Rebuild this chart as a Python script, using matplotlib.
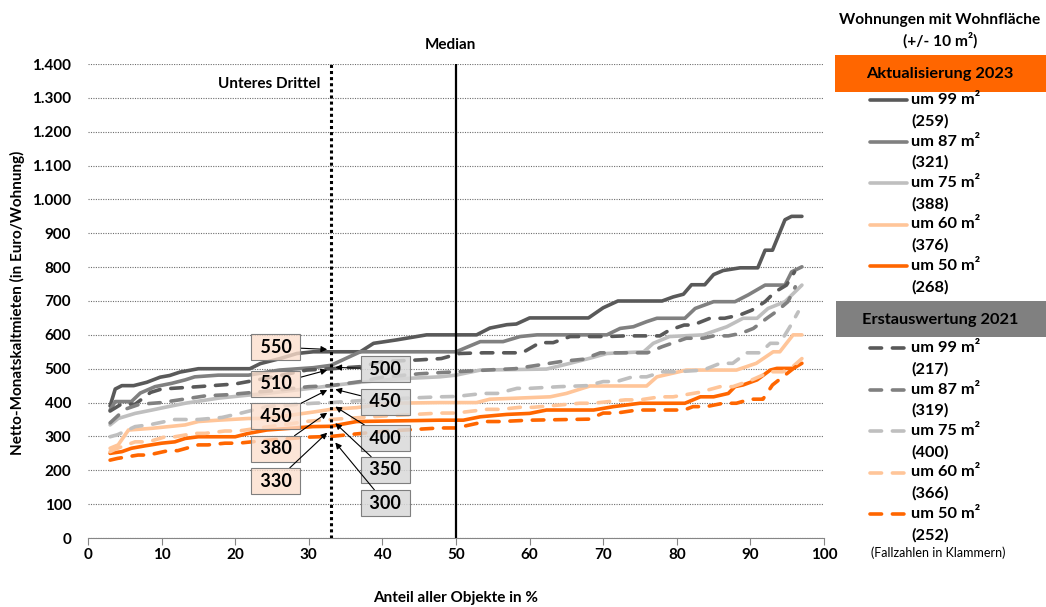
import matplotlib
matplotlib.use("Agg")
import matplotlib.pyplot as plt
from matplotlib.lines import Line2D
from matplotlib.patches import Rectangle
from matplotlib.ticker import FuncFormatter, MultipleLocator

plt.rcParams["font.family"] = ["Lato", "DejaVu Sans"]
plt.rcParams["font.weight"] = "bold"
plt.rcParams["axes.labelweight"] = "bold"

# --- data (x = Anteil in %, y = Euro/Wohnung) ---
# Aktualisierung 2023
x_99_2023 = [3, 3.7, 4.6, 6.2, 8, 9.8, 11.1, 12.5, 15, 22, 23.4, 26.1, 28.4, 30.6, 37, 38.8, 41.9, 46, 52.8, 54.6,
             56.9, 58.2, 60, 68, 70, 72, 78, 79.5, 80.9, 82, 83.8, 85, 86.3, 88.6, 91, 92, 93, 94.7, 95.6, 97]
y_99_2023 = [390, 440, 450, 450, 460, 475, 480, 490, 500, 500, 515, 530, 545, 550, 550, 575, 585, 600, 600, 620,
             630, 632, 650, 650, 680, 700, 700, 712, 720, 748, 748, 778, 790, 798, 798, 850, 850, 940, 950, 950]
x_87_2023 = [3, 3.7, 5.9, 7.1, 9.1, 11.4, 13.2, 14.5, 17.7, 21.8, 26, 30.6, 33, 35.5, 37, 50, 53.3, 56.4, 58.7, 61,
             70.5, 72.3, 74.1, 75.9, 77.3, 81.1, 82.5, 85, 87.9, 89.7, 92, 94.7, 95.6, 97]
y_87_2023 = [378, 403, 403, 428, 447, 457, 467, 476, 481, 481, 496, 503, 510, 535, 550, 550, 580, 580, 595, 600,
             600, 619, 624, 639, 649, 649, 678, 698, 698, 718, 747, 747, 786, 801]
x_75_2023 = [3, 4.1, 6.4, 8.7, 10.9, 13.2, 17.7, 21.8, 24.3, 30.6, 33, 37, 42, 47.8, 50, 53.3, 62.3, 65.5, 68.2,
             70.5, 75.5, 76.8, 79, 83.6, 86.8, 89, 90.9, 92.4, 94.7, 97]
y_75_2023 = [334, 353, 368, 378, 388, 398, 413, 422, 427, 443, 450, 460, 470, 476, 481, 496, 499, 516, 531,
             545, 550, 575, 595, 600, 624, 649, 649, 678, 698, 747]
x_60_2023 = [3, 4.1, 5.5, 8.7, 13.2, 15, 17.7, 21.8, 24.3, 30.6, 33, 36.5, 41, 47.8, 52.8, 54.6, 58.2, 62.8, 65,
             68.2, 75.9, 77.3, 81.3, 88.1, 90.8, 93.1, 94, 95.8, 97]
y_60_2023 = [265, 275, 319, 324, 334, 344, 348, 353, 353, 372, 380, 385, 398, 400, 400, 410, 413, 417, 427,
             449, 449, 476, 496, 496, 516, 550, 550, 600, 600]
x_50_2023 = [3, 4.6, 5.9, 7.7, 10, 11.8, 13.2, 15, 20, 21.8, 24.3, 30.6, 33, 36.5, 47.8, 51, 53.3, 56.9, 60, 62.3,
             68.7, 71.4, 75, 81.1, 83.2, 85, 87, 87.9, 89, 90.9, 92.7, 93.6, 95.8, 97]
y_50_2023 = [250, 255, 265, 272, 280, 284, 294, 299, 299, 309, 319, 329, 330, 344, 348, 348, 358, 365, 368, 378,
             378, 388, 398, 398, 417, 417, 427, 447, 452, 467, 496, 501, 501, 516]

# Erstauswertung 2021
x_99_2021 = [3, 4.5, 6.4, 8.5, 10, 15, 20, 25, 29.7, 33, 37, 40, 45, 48, 50.5, 53.8, 59, 61.4, 63.2, 65.5,
             70.5, 73, 77.7, 79, 81, 82.2, 84.5, 86.5, 88.6, 90.2, 92, 93.3, 94.9, 96]
y_99_2021 = [375, 395, 395, 430, 440, 447, 455, 475, 496, 500, 506, 521, 526, 530, 545, 547, 547, 577, 577, 595,
             595, 597, 597, 614, 629, 629, 649, 649, 659, 673, 698, 726, 747, 786]
x_87_2021 = [3, 4, 5, 7, 10, 16, 18.8, 25, 30, 33, 37, 40, 45, 50, 55, 58, 61, 64.5, 67.3, 69.6,
             76, 78, 81.3, 83.6, 85, 87, 88.8, 90.4, 92.3, 93.6, 95.1, 96.1]
y_87_2021 = [340, 360, 380, 395, 400, 420, 423, 435, 447, 450, 462, 475, 485, 491, 497, 500, 510, 522, 528, 547,
             547, 565, 590, 590, 597, 597, 605, 619, 650, 670, 698, 742]
x_75_2021 = [3, 4, 6.4, 8.5, 11.8, 15, 18.2, 21, 24.3, 30.6, 33, 40, 47.8, 50, 53.7, 55.6, 58.3, 60, 64.1, 67.8,
             70, 71.8, 74, 75.9, 78.1, 80, 83.6, 85.9, 87.6, 89.5, 91.3, 92.7, 94, 95.4, 96.5]
y_75_2021 = [299, 305, 329, 335, 350, 350, 356, 370, 388, 398, 400, 410, 417, 418, 427, 427, 442, 442, 447, 450,
             462, 462, 476, 476, 491, 491, 496, 516, 516, 547, 547, 575, 575, 625, 668]
x_60_2021 = [3, 4, 6.4, 8.2, 10.5, 11.8, 14.5, 15.9, 18.6, 20.4, 25, 30, 33, 40, 47.8, 50, 54.2, 56, 58.7, 60.5,
             66.8, 68.6, 73, 75, 77.7, 79.5, 83, 85.9, 87.6, 90, 92.7, 94.4, 95.5, 97]
y_60_2021 = [255, 265, 284, 284, 299, 299, 309, 309, 316, 316, 330, 345, 350, 360, 369, 369, 380, 380, 386, 386,
             398, 398, 408, 408, 417, 417, 430, 447, 447, 465, 491, 491, 501, 530]
x_50_2021 = [3, 4, 6.8, 8.2, 10.9, 12.2, 15, 16.3, 18.6, 20.4, 25, 30, 33, 40, 47.8, 50, 54, 56, 60, 68,
             70, 71.8, 74.6, 81, 82.2, 84, 86.3, 88.1, 90, 91.7, 93, 94.4, 95.8, 97]
y_50_2021 = [230, 235, 245, 245, 258, 258, 275, 275, 280, 280, 290, 298, 300, 315, 325, 325, 344, 344, 348, 351,
             369, 369, 378, 378, 388, 388, 398, 398, 410, 410, 452, 476, 500, 520]

sizes = ["99", "87", "75", "60", "50"]
counts_2023 = [259, 321, 388, 376, 268]
counts_2021 = [217, 319, 400, 366, 252]
colors = ["#595959", "#808080", "#BFBFBF", "#FFC599", "#FF6600"]

series_2023 = [(x_99_2023, y_99_2023), (x_87_2023, y_87_2023), (x_75_2023, y_75_2023),
               (x_60_2023, y_60_2023), (x_50_2023, y_50_2023)]
series_2021 = [(x_99_2021, y_99_2021), (x_87_2021, y_87_2021), (x_75_2021, y_75_2021),
               (x_60_2021, y_60_2021), (x_50_2021, y_50_2021)]

unteres_drittel = 33
median = 50

# values at the lower third, with where the arrows point
labels_2023 = [550, 510, 450, 380, 330]
labels_2021 = [500, 450, 400, 350, 300]
tips_2023 = [557, 496, 437, 370, 311]
tips_2021 = [504, 439, 388, 339, 282]

W, H = 1046, 607
DASH = (0, (3.2, 3.0))
LW = 2.6

fig = plt.figure(figsize=(W / 100, H / 100), dpi=100)
ax = fig.add_axes([88 / W, 1 - 538 / H, 736 / W, 474 / H])

for (xs, ys), c in zip(series_2023, colors):
    ax.plot(xs, ys, color=c, lw=LW, solid_joinstyle="round", solid_capstyle="round", zorder=3)
for (xs, ys), c in zip(series_2021, colors):
    ax.plot(xs, ys, color=c, lw=LW, linestyle=DASH, dash_capstyle="round", zorder=4)

ax.axvline(unteres_drittel, color="black", lw=2.2, linestyle=(0, (1, 1)), zorder=5)
ax.axvline(median, color="black", lw=1.6, zorder=5)
ax.text(31.6, 1341, "Unteres Drittel", ha="right", va="center", fontsize=11)
ax.text(49.3, 1456, "Median", ha="center", va="center", fontsize=11, clip_on=False)

ax.set_xlim(0, 100)
ax.set_ylim(0, 1400)
ax.xaxis.set_major_locator(MultipleLocator(10))
ax.yaxis.set_major_locator(MultipleLocator(100))
ax.yaxis.set_major_formatter(FuncFormatter(lambda v, p: f"{v:,.0f}".replace(",", ".")))
ax.yaxis.grid(True, linestyle=(0, (1, 1.2)), color="#6e6e6e", lw=0.8)
ax.set_axisbelow(True)
for s in ["top", "right", "left"]:
    ax.spines[s].set_visible(False)
ax.spines["bottom"].set_color("#868686")
ax.tick_params(axis="x", direction="out", length=5, color="#868686", labelsize=11, pad=2)
ax.tick_params(axis="y", length=0, labelsize=11, pad=12)

ax.set_xlabel("Anteil aller Objekte in %", fontsize=11, va="center")
ax.xaxis.set_label_coords(0.5, -0.126)
ax.set_ylabel("Netto-Monatskaltmieten (in Euro/Wohnung)", fontsize=11, va="center")
ax.yaxis.set_label_coords(-0.096, 0.496)

# annotation boxes at the lower third
box_x_2023, box_x_2021 = 25.5, 40.4
box_y_2023 = [564, 455, 360, 263, 168]
box_y_2021 = [499, 402, 295, 201, 103]
arrow = dict(arrowstyle="-|>", color="black", lw=0.8, mutation_scale=9, shrinkA=0, shrinkB=0)
for v, tip, by in zip(labels_2023, tips_2023, box_y_2023):
    ax.annotate(f" {v} ", xy=(32.5, tip), xytext=(box_x_2023, by), ha="center", va="center",
                fontsize=13, arrowprops=arrow, zorder=6,
                bbox=dict(boxstyle="square,pad=0.24", fc=(0.99, 0.87, 0.8, 0.78), ec="#7f7f7f", lw=0.8))
for v, tip, by in zip(labels_2021, tips_2021, box_y_2021):
    ax.annotate(f" {v} ", xy=(33.6, tip), xytext=(box_x_2021, by), ha="center", va="center",
                fontsize=13, arrowprops=arrow, zorder=6,
                bbox=dict(boxstyle="square,pad=0.24", fc=(0.85, 0.85, 0.85, 0.85), ec="#7f7f7f", lw=0.8))

# legend on the right, built by hand
fx = lambda px: px / W
fy = lambda py: 1 - py / H
fig.text(fx(940), fy(20), "Wohnungen mit Wohnfläche", ha="center", va="center", fontsize=11.2)
fig.text(fx(940), fy(40), "(+/- 10 m²)", ha="center", va="center", fontsize=11.2)

fig.patches.append(Rectangle((fx(835), fy(92)), 1 - fx(835), fy(55) - fy(92),
                             transform=fig.transFigure, fc="#FF6600", ec="none"))
fig.text(fx(940), fy(74), "Aktualisierung 2023", ha="center", va="center", fontsize=11.8)
fig.patches.append(Rectangle((fx(836), fy(337)), 1 - fx(836), fy(301) - fy(337),
                             transform=fig.transFigure, fc="#808080", ec="none"))
fig.text(fx(940), fy(320), "Erstauswertung 2021", ha="center", va="center", fontsize=11.8)

for i, (sz, c) in enumerate(zip(sizes, colors)):
    for top, cnt, ls in [(100, counts_2023[i], "-"), (348, counts_2021[i], DASH)]:
        py = top + 41.5 * i
        fig.add_artist(Line2D([fx(870), fx(907)], [fy(py), fy(py)], transform=fig.transFigure,
                              color=c, lw=LW, linestyle=ls, solid_capstyle="round", dash_capstyle="round"))
        fig.text(fx(911), fy(py), f"um {sz} m²", ha="left", va="center", fontsize=11.8)
        fig.text(fx(911), fy(py + 21), f"({cnt})", ha="left", va="center", fontsize=11.8)

fig.text(fx(938), fy(553), "(Fallzahlen in Klammern)", ha="center", va="center", fontsize=9, fontweight="normal")

fig.savefig("out.png", dpi=100)
